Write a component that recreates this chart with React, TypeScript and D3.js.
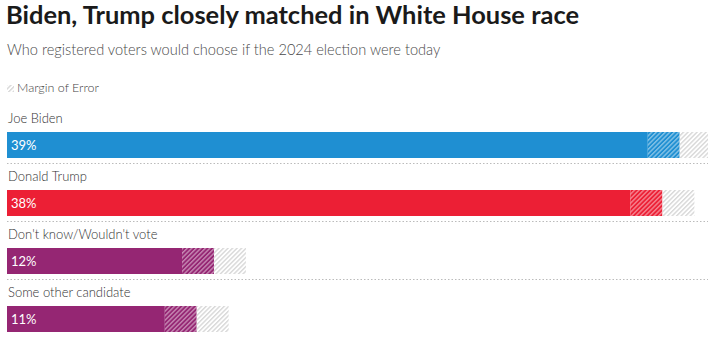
import React from "react";
import * as d3 from "d3";

const categories = ["Joe Biden", "Donald Trump", "Don't know/Wouldn't vote", "Some other candidate"];
const values = [39, 38, 12, 11];
const marginOfError = 1.85;
const colors = ["#1f8fd2", "#ec1f35", "#952673", "#952673"];
const title = "Biden, Trump closely matched in White House race";
const subtitle = "Who registered voters would choose if the 2024 election were today";
const legendLabel = "Margin of Error";

const W = 708;
const H = 347;

export default function App() {
  const x = d3.scaleLinear().domain([0, 40.64]).range([7, 708]);
  const y = d3
    .scaleBand<number>()
    .domain(d3.range(categories.length))
    .range([110, 342])
    .paddingInner(0)
    .paddingOuter(0);
  const barTop = (i: number) => (y(i) as number) + 22;
  const barH = 26;

  return (
    <svg
      width={W}
      height={H}
      style={{ position: "absolute", left: 0, top: 0, background: "#fff" }}
      fontFamily="Lato, 'Open Sans', sans-serif"
    >
      <defs>
        {colors.map((c, i) => (
          <pattern
            key={i}
            id={`hatch${i}`}
            patternUnits="userSpaceOnUse"
            width={3.2}
            height={3.2}
            patternTransform="rotate(45)"
          >
            <rect width={3.2} height={3.2} fill={c} />
            <rect width={1.4} height={3.2} fill="#fff" opacity={0.45} />
          </pattern>
        ))}
        <pattern
          id="hatchLight"
          patternUnits="userSpaceOnUse"
          width={3.2}
          height={3.2}
          patternTransform="rotate(45)"
        >
          <rect width={3.2} height={3.2} fill="#fff" />
          <rect width={1.4} height={3.2} fill="#d8d8d8" />
        </pattern>
      </defs>

      <text
        x={6}
        y={24}
        fontSize={24.5}
        fontWeight={700}
        fill="#1a1a1a"
        textLength={573}
        lengthAdjust="spacingAndGlyphs"
      >
        {title}
      </text>
      <text x={7} y={55} fontSize={14.6} fontWeight={300} fill="#4a4a4a">
        {subtitle}
      </text>

      <rect x={7} y={85} width={7} height={7} fill="url(#hatchLight)" />
      <text x={17} y={92} fontSize={12.5} fontWeight={300} fill="#444">
        {legendLabel}
      </text>

      {categories.map((cat, i) => {
        const top = barTop(i);
        const v = values[i];
        return (
          <g key={cat}>
            <text x={8} y={(y(i) as number) + 13} fontSize={13} fontWeight={300} fill="#333">
              {cat}
            </text>
            <rect x={x(0)} y={top} width={x(v - marginOfError) - x(0)} height={barH} fill={colors[i]} />
            <rect
              x={x(v - marginOfError)}
              y={top}
              width={x(v) - x(v - marginOfError)}
              height={barH}
              fill={`url(#hatch${i})`}
            />
            <rect
              x={x(v)}
              y={top}
              width={Math.min(x(v + marginOfError), W) - x(v)}
              height={barH}
              fill="url(#hatchLight)"
            />
            <text x={11} y={top + 18} fontSize={13} fontWeight={400} fill="#fff">
              {v}%
            </text>
            {i < categories.length - 1 && (
              <line
                x1={7}
                x2={W}
                y1={top + barH + 5.5}
                y2={top + barH + 5.5}
                stroke="#bbb"
                strokeWidth={1}
                strokeDasharray="1.5,2"
              />
            )}
          </g>
        );
      })}
    </svg>
  );
}
